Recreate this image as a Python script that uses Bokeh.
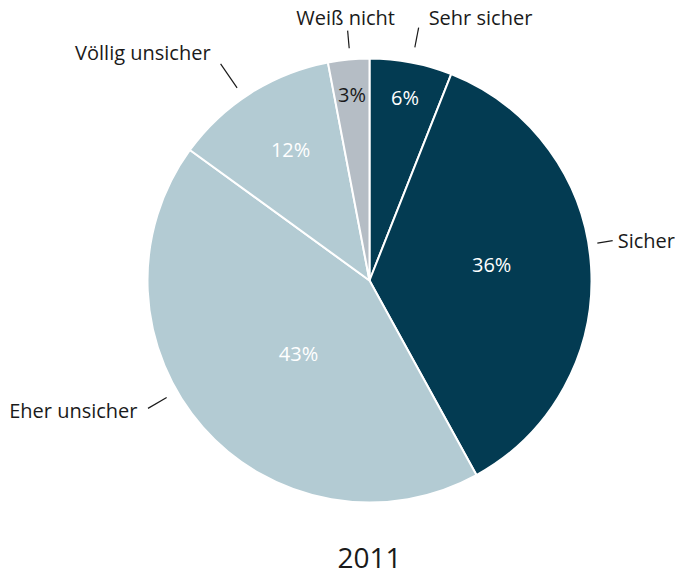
import math
from bokeh.plotting import figure
from bokeh.models import Range1d, ColumnDataSource
from bokeh.core.properties import value
from bokeh.embed import file_html
from bokeh.resources import INLINE

# Data (clockwise from top)
categories = ["Sehr sicher", "Sicher", "Eher unsicher", "Völlig unsicher", "Weiß nicht"]
shares = [6, 36, 43, 12, 3]
pct_labels = ["6%", "36%", "43%", "12%", "3%"]
title_text = "2011"

# Style / layout
colors = ["#033b52", "#033b52", "#b3cbd3", "#b3cbd3", "#b5bdc5"]
pct_colors = ["white", "white", "white", "white", "#1a1a1a"]
pct_r = [0.84, 0.555, 0.46, 0.69, 0.84]
pct_deg = [11, 82.5, 224, 329, 354.6]
leader_deg = [11, 80.7, 240, 325.5, 355]
leader_r0 = [1.07, 1.04, 1.055, 1.053, 1.05]
leader_r1 = [1.16, 1.11, 1.152, 1.184, 1.13]
text_align = ["left", "left", "right", "right", "center"]
text_dx = [10, 5, -10.5, -10, -2]
text_dy = [-10, 0, 2, -11, -13]  # screen px (positive = down)

W, H = 675, 575
PAGE_H = 583
cx, cy = 369, PAGE_H - 280
R = 222
FONT = "Open Sans"

p = figure(width=W, height=H, output_backend="svg", toolbar_location=None,
           x_range=Range1d(0, W), y_range=Range1d(PAGE_H - H, PAGE_H),
           min_border=0)
p.axis.visible = False
p.grid.visible = False
p.outline_line_color = None
p.background_fill_color = "white"

total = sum(shares)
starts, ends = [], []
acc = 0.0
for s in shares:
    a0 = acc / total * 2 * math.pi
    acc += s
    a1 = acc / total * 2 * math.pi
    starts.append(math.pi / 2 - a0)
    ends.append(math.pi / 2 - a1)

src = ColumnDataSource(dict(start=starts, end=ends, color=colors))
p.wedge(x=cx, y=cy, radius=R, start_angle="start", end_angle="end", direction="clock",
        fill_color="color", line_color="white", line_width=2, source=src)

# percentage labels
for i in range(len(shares)):
    a = math.radians(pct_deg[i])
    r = pct_r[i] * R
    x = cx + r * math.sin(a)
    y = cy + r * math.cos(a)
    p.text(x=[x], y=[y], text=[pct_labels[i]], text_align="center", text_baseline="middle",
           text_font=value(FONT), text_font_size="20px", text_color=pct_colors[i])

# leaders and category labels
for i in range(len(categories)):
    a = math.radians(leader_deg[i])
    r0, r1 = R * leader_r0[i], R * leader_r1[i]
    x0, y0 = cx + r0 * math.sin(a), cy + r0 * math.cos(a)
    x1, y1 = cx + r1 * math.sin(a), cy + r1 * math.cos(a)
    p.line([x0, x1], [y0, y1], line_color="#1a1a1a", line_width=1.2)
    p.text(x=[x1], y=[y1], text=[categories[i]], text_align=text_align[i], text_baseline="middle",
           x_offset=text_dx[i], y_offset=text_dy[i],
           text_font=value(FONT), text_font_size="20px", text_color="#1a1a1a")

p.text(x=[cx], y=[PAGE_H - 557], text=[title_text], text_align="center", text_baseline="middle",
       text_font=value(FONT), text_font_size="28px", text_color="#1a1a1a")

open("out.html", "w").write(file_html(p, INLINE))
